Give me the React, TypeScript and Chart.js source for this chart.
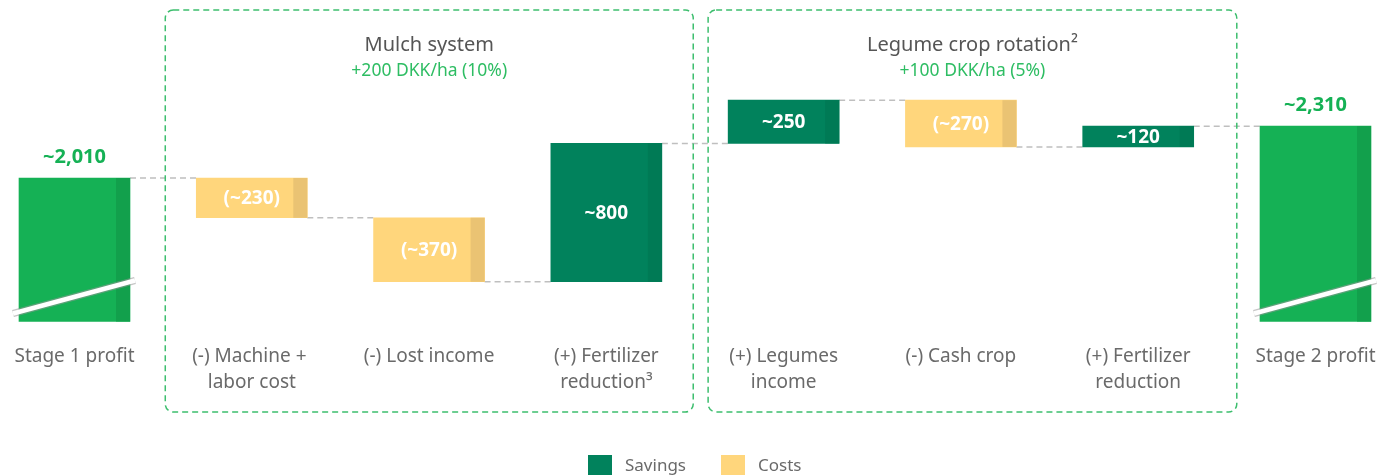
import React, { useEffect, useRef } from "react";
import { Chart, registerables } from "chart.js";

Chart.register(...registerables);

// ---------- data ----------
const categories: string[][] = [
  ["Stage 1 profit"],
  ["(-) Machine + ", "labor cost"],
  ["(-) Lost income"],
  ["(+) Fertilizer", "reduction³"],
  ["(+) Legumes", "income"],
  ["(-) Cash crop"],
  ["(+) Fertilizer", "reduction"],
  ["Stage 2 profit"],
];
const stage1Profit = 2010;
const changes = [-230, -370, 800, 250, -270, 120];
const stage2Profit = 2310;
const valueLabels = ["~2,010", "(~230)", "(~370)", "~800", "~250", "(~270)", "~120", "~2,310"];
const axisBreakValue = 1180; // broken value axis starts here
const axisMax = 2600;
const groupTitles = ["Mulch system", "Legume crop rotation²"];
const groupSubtitles = ["+200 DKK/ha (10%)", "+100 DKK/ha (5%)"];
const groupRanges = [
  [1, 3],
  [4, 6],
];
const legendLabels = ["Savings", "Costs"];

// ---------- styles ----------
const FONT = "'Noto Sans', sans-serif";
const C_TOTAL = "#15B155";
const C_TOTAL_D = "#12A04C";
const C_SAVE = "#01825C";
const C_SAVE_D = "#007A55";
const C_COST = "#FFD67C";
const C_COST_D = "#EAC373";
const C_GROUP = "#3DBE6E";

// build floating ranges
const ranges: [number, number][] = [];
const kinds: string[] = [];
ranges.push([axisBreakValue, stage1Profit]);
kinds.push("total");
let run = stage1Profit;
for (const c of changes) {
  const next = run + c;
  ranges.push([Math.min(run, next), Math.max(run, next)]);
  kinds.push(c >= 0 ? "save" : "cost");
  run = next;
}
ranges.push([axisBreakValue, stage2Profit]);
kinds.push("total");
const levels: number[] = [stage1Profit];
{
  let r = stage1Profit;
  for (const c of changes) {
    r += c;
    levels.push(r);
  }
}

const mainColor = (k: string) => (k === "total" ? C_TOTAL : k === "save" ? C_SAVE : C_COST);
const darkColor = (k: string) => (k === "total" ? C_TOTAL_D : k === "save" ? C_SAVE_D : C_COST_D);

const decorPlugin = {
  id: "decor",
  beforeDatasetsDraw(chart: any) {
    const ctx = chart.ctx;
    const meta = chart.getDatasetMeta(0);
    const y = chart.scales.y;
    // connectors
    ctx.save();
    ctx.strokeStyle = "#BFBFBF";
    ctx.lineWidth = 1.5;
    ctx.setLineDash([6, 4]);
    for (let i = 0; i < meta.data.length - 1; i++) {
      const a = meta.data[i];
      const b = meta.data[i + 1];
      const lv = y.getPixelForValue(levels[Math.min(i, levels.length - 1)]);
      ctx.beginPath();
      ctx.moveTo(a.x + a.width / 2, lv);
      ctx.lineTo(b.x - b.width / 2, lv);
      ctx.stroke();
    }
    ctx.restore();
  },
  afterDatasetsDraw(chart: any) {
    const ctx = chart.ctx;
    const meta = chart.getDatasetMeta(0);
    const xs = chart.scales.x;
    const step = xs.getPixelForValue(1) - xs.getPixelForValue(0);

    meta.data.forEach((bar: any, i: number) => {
      const left = bar.x - bar.width / 2;
      const right = bar.x + bar.width / 2;
      const top = Math.min(bar.y, bar.base);
      const bottom = Math.max(bar.y, bar.base);
      // darker side strip
      ctx.fillStyle = darkColor(kinds[i]);
      ctx.fillRect(right - 14, top, 14, bottom - top);
      if (kinds[i] === "total") {
        // axis break mark
        ctx.save();
        ctx.lineCap = "butt";
        ctx.strokeStyle = "rgba(150,150,150,0.55)";
        ctx.lineWidth = 7;
        ctx.beginPath();
        ctx.moveTo(left - 6, bottom - 8);
        ctx.lineTo(right + 5, bottom - 41);
        ctx.stroke();
        ctx.strokeStyle = "#FFFFFF";
        ctx.lineWidth = 4.5;
        ctx.beginPath();
        ctx.moveTo(left - 6, bottom - 8);
        ctx.lineTo(right + 5, bottom - 41);
        ctx.stroke();
        ctx.restore();
        // value above
        ctx.fillStyle = C_TOTAL;
        ctx.font = `bold 20px ${FONT}`;
        ctx.textAlign = "center";
        ctx.textBaseline = "middle";
        ctx.fillText(valueLabels[i], bar.x, top - 21);
      } else {
        ctx.fillStyle = "#FFFFFF";
        ctx.font = `bold 19px ${FONT}`;
        ctx.textAlign = "center";
        ctx.textBaseline = "middle";
        ctx.fillText(valueLabels[i], bar.x, (top + bottom) / 2 + 1);
      }
      // category labels
      ctx.fillStyle = "#6A6A6A";
      ctx.font = `19px ${FONT}`;
      ctx.textAlign = "center";
      ctx.textBaseline = "middle";
      categories[i].forEach((line, li) => {
        ctx.fillText(line, xs.getPixelForValue(i), 349 + li * 26);
      });
    });

    // group boxes
    const offs = [
      [0.488, 0.49],
      [0.426, 0.556],
    ];
    groupRanges.forEach((g, gi) => {
      const l = xs.getPixelForValue(g[0]) - offs[gi][0] * step;
      const r = xs.getPixelForValue(g[1]) + offs[gi][1] * step;
      ctx.save();
      ctx.strokeStyle = C_GROUP;
      ctx.lineWidth = 1.5;
      ctx.setLineDash([6, 4]);
      ctx.beginPath();
      ctx.roundRect(l, 2, r - l, 402, 8);
      ctx.stroke();
      ctx.restore();
      const cx = (l + r) / 2;
      ctx.textAlign = "center";
      ctx.textBaseline = "middle";
      ctx.fillStyle = "#555555";
      ctx.font = `20px ${FONT}`;
      ctx.fillText(groupTitles[gi], cx, 37);
      ctx.fillStyle = "#2EBD63";
      ctx.font = `17.5px ${FONT}`;
      ctx.fillText(groupSubtitles[gi], cx, 63);
    });

    // legend
    const legendColors = [C_SAVE, C_COST];
    const legendX = [580, 713];
    legendLabels.forEach((lab, li) => {
      ctx.fillStyle = legendColors[li];
      ctx.fillRect(legendX[li], 447, 24, 24);
      ctx.fillStyle = "#6A6A6A";
      ctx.font = `17px ${FONT}`;
      ctx.textAlign = "left";
      ctx.textBaseline = "middle";
      ctx.fillText(lab, legendX[li] + 37, 458);
    });
  },
};

export default function App() {
  const ref = useRef<HTMLCanvasElement | null>(null);
  useEffect(() => {
    if (!ref.current) return;
    const chart = new Chart(ref.current, {
      type: "bar",
      data: {
        labels: categories.map((c) => c.join(" ")),
        datasets: [
          {
            data: ranges as any,
            backgroundColor: kinds.map(mainColor),
            borderWidth: 0,
            barThickness: 111,
            clip: false as any,
          },
        ],
      },
      options: {
        responsive: false,
        animation: false,
        devicePixelRatio: 1,
        layout: { padding: { left: 66.5, right: 68.5, top: 68, bottom: 166.5 } },
        plugins: { legend: { display: false }, tooltip: { enabled: false }, title: { display: false } },
        scales: {
          x: { type: "category", offset: false, display: false, grid: { display: false } },
          y: { min: axisBreakValue, max: axisMax, display: false, grid: { display: false } },
        },
      },
      plugins: [decorPlugin],
    });
    return () => chart.destroy();
  }, []);
  return (
    <div style={{ width: 1376, height: 480 }}>
      <canvas ref={ref} width={1376} height={480} style={{ display: "block" }} />
    </div>
  );
}
